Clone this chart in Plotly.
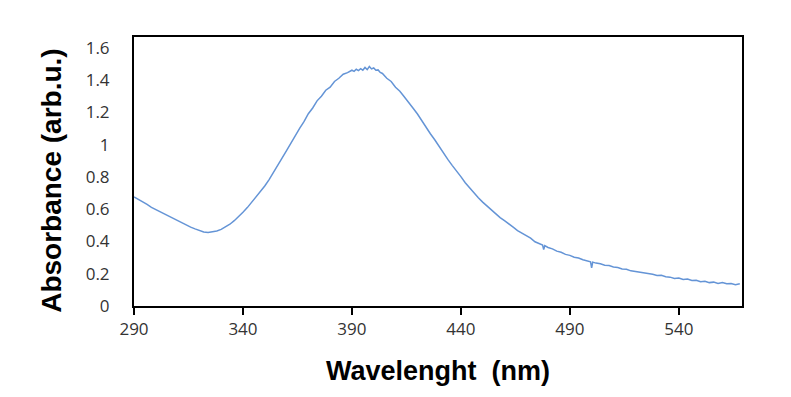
import plotly.graph_objects as go

wavelength = [
    290, 292, 294, 296, 298, 300, 302, 304, 306, 308,
    310, 312, 314, 316, 318, 320, 322, 324, 326, 328,
    330, 332, 334, 336, 338, 340, 342, 344, 346, 348,
    350, 352, 354, 356, 358, 360, 362, 364, 366, 368,
    370, 372, 374, 376, 378, 380, 382, 384, 386, 388,
    390, 391, 392, 393, 394, 395, 396, 397, 398, 399,
    400, 401, 402, 403, 404, 406, 408, 410, 412, 414,
    416, 418, 420, 422, 424, 426, 428, 430, 432, 434,
    436, 438, 440, 442, 444, 446, 448, 450, 452, 454,
    456, 458, 460, 462, 464, 466, 468, 470, 472, 474,
    476, 477.5, 478, 478.5, 480, 482, 484, 486, 488, 490,
    492, 494, 496, 498, 499.5, 500, 500.5, 502, 504, 506,
    508, 510, 512, 514, 516, 518, 520, 522, 524, 526,
    528, 530, 532, 534, 536, 538, 540, 542, 544, 546,
    548, 550, 552, 554, 556, 558, 560, 562, 564, 566, 568,
]

absorbance = [
    0.676, 0.662, 0.645, 0.630, 0.612, 0.598, 0.582, 0.570, 0.555, 0.542,
    0.528, 0.514, 0.502, 0.489, 0.478, 0.468, 0.459, 0.456, 0.459, 0.465,
    0.475, 0.489, 0.507, 0.529, 0.553, 0.581, 0.610, 0.642, 0.674, 0.708,
    0.744, 0.784, 0.826, 0.870, 0.918, 0.963, 1.012, 1.053, 1.102, 1.143,
    1.192, 1.228, 1.272, 1.301, 1.338, 1.357, 1.392, 1.412, 1.437, 1.447,
    1.462, 1.455, 1.468, 1.460, 1.472, 1.462, 1.479, 1.466, 1.485, 1.470,
    1.476, 1.462, 1.464, 1.448, 1.442, 1.412, 1.392, 1.356, 1.332, 1.297,
    1.266, 1.228, 1.192, 1.148, 1.112, 1.068, 1.031, 0.988, 0.951, 0.909,
    0.872, 0.833, 0.802, 0.764, 0.733, 0.698, 0.671, 0.644, 0.620, 0.594,
    0.573, 0.548, 0.529, 0.506, 0.489, 0.468, 0.453, 0.434, 0.421, 0.398,
    0.387, 0.378, 0.350, 0.374, 0.363, 0.354, 0.340, 0.333, 0.320, 0.314,
    0.302, 0.297, 0.287, 0.282, 0.274, 0.236, 0.272, 0.266, 0.262, 0.253,
    0.251, 0.242, 0.239, 0.230, 0.228, 0.218, 0.214, 0.209, 0.206, 0.198,
    0.197, 0.189, 0.190, 0.181, 0.179, 0.171, 0.174, 0.165, 0.167, 0.158,
    0.160, 0.150, 0.153, 0.145, 0.148, 0.140, 0.146, 0.138, 0.139, 0.132, 0.138,
]

x_ticks = [290, 340, 390, 440, 490, 540]
y_ticks = [0, 0.2, 0.4, 0.6, 0.8, 1, 1.2, 1.4, 1.6]

fig = go.Figure(
    go.Scatter(
        x=wavelength,
        y=absorbance,
        mode="lines",
        line=dict(color="#6494d6", width=1.5),
        hoverinfo="skip",
    )
)

tick_font = dict(family="Open Sans, sans-serif", size=17, color="#333333")
title_font = dict(family="Liberation Sans, Arial, sans-serif", size=27, color="black")

fig.update_layout(
    width=783,
    height=389,
    margin=dict(l=126, r=49, t=29, b=91),
    paper_bgcolor="white",
    plot_bgcolor="white",
    showlegend=False,
    xaxis=dict(
        range=[290, 569],
        tickvals=x_ticks,
        ticks="outside",
        ticklen=7,
        tickwidth=1.5,
        tickcolor="black",
        showline=True,
        linecolor="black",
        linewidth=2,
        mirror=True,
        showgrid=False,
        zeroline=False,
        automargin=False,
        tickfont=tick_font,
        title=dict(text="<b>Wavelenght\u00a0 (nm)</b>", font=title_font, standoff=22),
    ),
    yaxis=dict(
        range=[0, 1.668],
        tickvals=y_ticks,
        ticks="",
        showline=True,
        linecolor="black",
        linewidth=2,
        mirror=True,
        showgrid=False,
        zeroline=False,
        automargin=False,
        tickfont=tick_font,
        ticklabelstandoff=19,
    ),
    annotations=[
        dict(
            text="<b>Absorbance (arb.u.)</b>",
            xref="paper",
            yref="paper",
            x=-0.135,
            y=0.465,
            xanchor="center",
            yanchor="middle",
            textangle=-90,
            showarrow=False,
            font=dict(family="Liberation Sans, Arial, sans-serif", size=28, color="black"),
        )
    ],
)

fig.write_html("out.html")
